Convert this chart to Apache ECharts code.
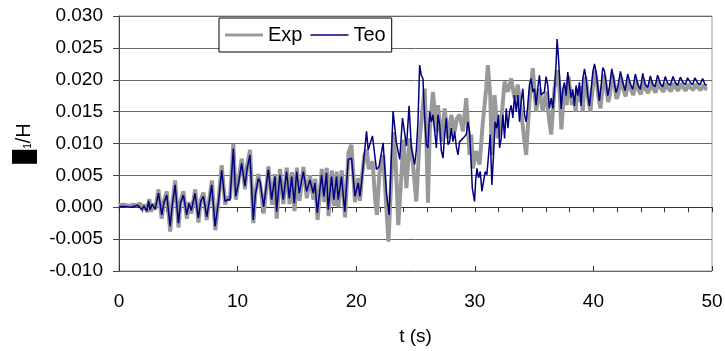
<!DOCTYPE html>
<html><head><meta charset="utf-8">
<script src="https://cdn.jsdelivr.net/npm/echarts@6/dist/echarts.min.js"></script>
<style>html,body{margin:0;padding:0;background:#fff}#c{width:725px;height:351px}</style>
</head><body><div id="c"></div>
<script>
// ---- data ----
const yTicks = [-0.010,-0.005,0.000,0.005,0.010,0.015,0.020,0.025,0.030];
const xTicks = [0,10,20,30,40,50];
const seriesNames = ['Exp','Teo'];
const expData = [
[0,0.0003],[0.4,0.0004],[0.8,0.0002],[1.2,0.0004],[1.5,0.0003],[1.8,0.0006],[2.0,-0.0004],[2.2,0.0004],[2.4,-0.0008],[2.55,0.0013],[2.7,-0.0007],[2.85,0.0006],[3.05,-0.0004],[3.33,0.0028],[3.6,-0.0018],[3.8,0.0010],[4.03,0.0025],[4.32,-0.0038],[4.5,0.0006],[4.73,0.0042],[5.02,-0.0032],[5.2,0.0010],[5.43,0.0025],[5.72,-0.0018],[5.9,0.0008],[6.1,-0.0010],[6.42,0.0028],[6.7,-0.0024],[6.9,0.0012],[7.12,0.0023],[7.4,-0.0020],[7.6,0.0010],[7.83,0.0042],[8.12,-0.0036],[8.4,0.0012],[8.66,0.0066],[8.95,0.0004],[9.15,0.0016],[9.36,0.0014],[9.64,0.0099],[9.85,0.0012],[10.1,0.0045],[10.35,0.0076],[10.62,0.0028],[10.8,0.0065],[11.05,0.0090],[11.33,-0.0025],[11.5,0.0022],[11.75,0.0052],[11.95,0.0030],[12.2,-0.0010],
[12.6,0.0064],[12.9,0.0004],[13.15,0.0052],[13.3,-0.0018],[13.58,0.0060],[13.86,0.0005],[14.14,0.0062],[14.38,0.0005],[14.58,0.0055],[14.8,-0.0006],[15.0,0.0062],[15.22,0.0010],[15.55,0.0063],[15.84,0.0014],[16.1,0.0050],[16.4,0.0012],[16.55,0.0045],[16.74,-0.0020],[17.1,0.0060],[17.3,0.0008],[17.52,0.0062],[17.66,-0.0014],[17.94,0.0058],[18.14,0.0002],[18.36,0.0056],[18.5,0.0000],[18.78,0.0058],[19.06,-0.0016],[19.35,0.0086],[19.6,0.0098],[19.9,0.0008],[20.18,0.0046],[20.32,0.0010],[20.48,0.0048],[20.7,0.0082],[20.9,0.0090],[21.05,0.0060],[21.38,0.0072],[21.6,0.0012],[21.75,-0.0012],[21.95,0.0052],[22.28,0.0082],[22.5,0.0012],[22.72,-0.0054],[22.95,0.0040],[23.15,0.0118],[23.35,0.0062],[23.55,-0.0028],[23.75,0.0032],[24.0,0.0106],[24.23,0.0030],
[24.51,0.0108],[24.79,0.0067],[25.07,0.0009],[25.35,0.0108],[25.63,0.0160],[25.77,0.0186],[25.9,0.0120],[26.05,0.0007],[26.2,0.0120],[26.47,0.0181],[26.76,0.0119],[26.9,0.0160],[27.18,0.0103],[27.46,0.0155],[27.74,0.0108],[28.02,0.0145],[28.3,0.0119],[28.5,0.0140],[28.72,0.0145],[29.0,0.0119],[29.28,0.0171],[29.56,0.0082],[29.7,0.0114],[29.84,0.0061],[30.12,0.0088],[30.4,0.0067],[30.68,0.0134],[30.96,0.0186],[31.1,0.0223],[31.3,0.0176],[31.44,0.0082],[31.67,0.0176],[31.95,0.0108],[32.23,0.0134],[32.51,0.0197],[32.79,0.0181],[33.07,0.0202],[33.35,0.0171],[33.63,0.0192],[33.91,0.0150],[34.19,0.0103],[34.33,0.0082],[34.61,0.0166],[34.89,0.0218],[35.17,0.0150],[35.45,0.0186],[35.73,0.0150],[36.01,0.0181],[36.29,0.0134],[36.44,0.0114],[36.72,0.0186],
[37.0,0.0215],[37.15,0.0185],[37.3,0.0122],[37.45,0.0165],[37.6,0.0190],[37.75,0.0160],[37.9,0.0205],[38.05,0.0180],[38.2,0.0160],[38.35,0.0175],[38.5,0.0150],[38.65,0.0185],[38.8,0.0165],[38.95,0.0190],[39.1,0.0150],[39.3,0.0205],[39.45,0.0190],[39.6,0.0165],[39.75,0.0150],[39.9,0.0180],[40.1,0.0215],[40.3,0.0195],[40.45,0.0170],[40.6,0.0155],[40.75,0.0185],[40.9,0.0208],[41.05,0.0190],[41.25,0.0165],[41.4,0.0178],[41.6,0.0208],[41.8,0.0190],[41.95,0.0170],[42.1,0.0178],[42.33,0.0204],[42.52,0.0186],[42.72,0.0174],[42.95,0.0200],[43.17,0.0184],[43.36,0.0176],[43.6,0.0200],[43.8,0.0184],[44.0,0.0177],[44.22,0.0200],[44.4,0.0185],[44.63,0.0179],[44.86,0.0197],[45.05,0.0185],[45.25,0.0180],[45.48,0.0197],[45.7,0.0186],[45.9,0.0181],[46.12,0.0195],[46.32,0.0186],[46.54,0.0182],[46.77,0.0195],[46.96,0.0187],[47.16,0.0183],[47.39,0.0194],[47.6,0.0187],[47.8,0.0183],[48.0,0.0193],[48.22,0.0187],[48.42,0.0184],[48.62,0.0193],[48.85,0.0187],[49.04,0.0184],[49.27,0.0192],[49.46,0.0186],[49.6,0.0185]
];
const teoData = [
[0,0.0001],[0.5,0.0001],[1.0,0.0000],[1.36,0.0002],[1.6,0.0003],[1.92,-0.0004],[2.1,0.0002],[2.35,-0.0006],[2.49,0.0010],[2.63,-0.0004],[2.8,0.0005],[3.05,-0.0003],[3.33,0.0022],[3.61,-0.0012],[3.8,0.0008],[4.03,0.0019],[4.31,-0.0030],[4.5,0.0005],[4.73,0.0035],[5.01,-0.0025],[5.2,0.0008],[5.43,0.0019],[5.71,-0.0012],[5.9,0.0006],[6.1,-0.0005],[6.41,0.0022],[6.69,-0.0017],[6.9,0.0010],[7.12,0.0017],[7.4,-0.0015],[7.6,0.0008],[7.82,0.0035],[8.1,-0.0030],[8.4,0.0010],[8.66,0.0058],[8.94,0.0009],[9.15,0.0012],[9.36,0.0011],[9.64,0.0092],[9.84,0.0017],[10.1,0.0040],[10.34,0.0069],[10.62,0.0033],[10.8,0.0060],[11.04,0.0082],[11.32,-0.0020],[11.5,0.0020],[11.75,0.0045],[11.9,0.0040],[12.2,0.0001],
[12.59,0.0059],[12.87,0.0012],[13.15,0.0048],[13.29,-0.0007],[13.57,0.0051],[13.85,0.0012],[14.13,0.0056],[14.36,0.0014],[14.56,0.0048],[14.78,0.0006],[14.98,0.0056],[15.2,0.0022],[15.54,0.0056],[15.82,0.0025],[16.1,0.0043],[16.38,0.0022],[16.52,0.0038],[16.72,-0.0009],[17.08,0.0051],[17.28,0.0017],[17.5,0.0054],[17.64,-0.0004],[17.92,0.0048],[18.12,0.0012],[18.34,0.0048],[18.48,0.0012],[18.76,0.0048],[19.04,-0.0007],[19.33,0.0075],[19.61,0.0077],[19.89,0.0017],[20.17,0.0038],[20.31,0.0017],[20.45,0.0038],[20.64,0.0075],[20.87,0.0119],[21.01,0.0090],[21.37,0.0112],[21.71,0.0059],[21.93,0.0064],[22.27,0.0101],[22.55,0.0022],[22.78,-0.0012],[23.11,0.0151],[23.39,0.0101],[23.67,0.0075],[23.9,0.0140],[24.24,0.0096],[24.46,0.0159],
[24.65,0.0093],[24.93,0.0067],[25.07,0.0090],[25.21,0.0134],[25.35,0.0223],[25.49,0.0207],[25.63,0.0202],[25.72,0.0160],[25.91,0.0098],[26.05,0.0093],[26.19,0.0150],[26.33,0.0134],[26.47,0.0145],[26.62,0.0119],[26.76,0.0093],[26.9,0.0145],[27.04,0.0129],[27.18,0.0088],[27.32,0.0077],[27.46,0.0114],[27.6,0.0140],[27.74,0.0098],[27.88,0.0103],[28.02,0.0124],[28.16,0.0103],[28.3,0.0119],[28.44,0.0095],[28.58,0.0082],[28.72,0.0103],[28.86,0.0101],[29.0,0.0108],[29.28,0.0114],[29.42,0.0134],[29.56,0.0119],[29.7,0.0067],[29.79,0.0030],[29.9,0.0028],[29.98,0.0009],[30.07,0.0041],[30.18,0.0061],[30.32,0.0046],[30.46,0.0056],[30.6,0.0025],[30.74,0.0041],[30.88,0.0056],[31.02,0.0051],[31.16,0.0082],[31.3,0.0114],[31.44,0.0035],[31.58,0.0082],[31.72,0.0134],[31.86,0.0124],[32.0,0.0145],[32.09,0.0093],[32.23,0.0108],[32.37,0.0145],[32.51,0.0108],[32.65,0.0155],[32.79,0.0124],[32.93,0.0150],[33.07,0.0160],[33.21,0.0140],[33.35,0.0176],[33.49,0.0150],[33.63,0.0176],[33.77,0.0134],[33.91,0.0166],[34.05,0.0186],[34.19,0.0145],[34.33,0.0134],[34.47,0.0160],[34.61,0.0192],[34.75,0.0202],[34.89,0.0181],[35.03,0.0186],[35.17,0.0160],[35.31,0.0186],[35.45,0.0207],[35.59,0.0176],[35.87,0.0181],[36.01,0.0205],[36.15,0.0192],[36.29,0.0155],[36.44,0.0171],[36.58,0.0155],[36.72,0.0185],[36.86,0.0228],
[36.94,0.0264],[37.06,0.0233],[37.14,0.0206],[37.28,0.0154],[37.42,0.0185],[37.56,0.0196],[37.7,0.0175],[37.84,0.0212],[37.98,0.0191],[38.12,0.0172],[38.26,0.0185],[38.4,0.0159],[38.54,0.0191],[38.68,0.0175],[38.82,0.0196],[38.96,0.0159],[39.1,0.0201],[39.25,0.0217],[39.39,0.0201],[39.53,0.0175],[39.67,0.0159],[39.81,0.0185],[39.95,0.0212],[40.09,0.0225],[40.23,0.0212],[40.37,0.0188],[40.51,0.0167],[40.65,0.0191],[40.79,0.0219],[40.93,0.0214],[41.07,0.0196],[41.21,0.0175],[41.35,0.0188],[41.55,0.0217],[41.71,0.0201],[41.91,0.0180],[42.05,0.0188],[42.28,0.0213],[42.47,0.0196],[42.67,0.0183],[42.89,0.0209],[43.12,0.0193],[43.31,0.0185],[43.54,0.0209],[43.73,0.0193],[43.96,0.0185],[44.16,0.0210],[44.35,0.0193],[44.58,0.0188],[44.8,0.0206],[45.0,0.0193],[45.19,0.0189],[45.42,0.0207],[45.64,0.0194],[45.84,0.0189],[46.06,0.0205],[46.26,0.0195],[46.48,0.0191],[46.71,0.0205],[46.9,0.0196],[47.1,0.0191],[47.33,0.0204],[47.55,0.0196],[47.75,0.0192],[47.94,0.0203],[48.17,0.0196],[48.36,0.0192],[48.56,0.0203],[48.79,0.0195],[48.98,0.0192],[49.21,0.0202],[49.4,0.0193],[49.57,0.0191]
];
// ---- chart ----
const FONT = 'Liberation Sans, Arial, sans-serif';
const FS = 19;
const chart = echarts.init(document.getElementById('c'), null, {renderer:'canvas'});
const xMin = xTicks[0], xMax = xTicks[xTicks.length-1];
const yMin = yTicks[0], yMax = yTicks[yTicks.length-1];
chart.setOption({
  animation:false,
  backgroundColor:'#fff',
  grid:{left:119,right:13,top:16,bottom:80,containLabel:false,outerBoundsMode:'none',
        show:true,borderColor:'#9a9a9a',borderWidth:1,backgroundColor:'transparent'},
  legend:{
    data:[
      {name:seriesNames[0],icon:'path://M0,0H38V3H0Z'},
      {name:seriesNames[1],icon:'path://M0,0H38V1.5H0Z'}
    ],
    left:219, top:18, orient:'horizontal', symbolKeepAspect:true,
    backgroundColor:'#fff', borderColor:'#000', borderWidth:1, borderRadius:0,
    padding:[7,6,7,6], itemWidth:38, itemHeight:4, itemGap:8,
    textStyle:{fontFamily:FONT,fontSize:20,color:'#000',padding:[0,0,0,0]}
  },
  xAxis:[
    {type:'value',min:xMin,max:xMax,interval:2,position:'bottom',
     axisLine:{show:true,onZero:true,lineStyle:{color:'#333',width:1}},
     axisTick:{show:true,length:5,inside:false,lineStyle:{color:'#333'}},
     axisLabel:{show:false},splitLine:{show:false}},
    {type:'value',min:xMin,max:xMax,interval:10,position:'bottom',
     axisLine:{show:false,onZero:true},
     axisTick:{show:true,length:5,inside:true,lineStyle:{color:'#333'}},
     axisLabel:{show:false},splitLine:{show:false}},
    {type:'value',min:xMin,max:xMax,interval:10,position:'bottom',
     axisLine:{show:false,onZero:false},axisTick:{show:false},splitLine:{show:false},
     axisLabel:{show:true,margin:21,fontFamily:FONT,fontSize:FS,color:'#000'},
     name:'t (s)',nameLocation:'middle',nameGap:56,
     nameTextStyle:{fontFamily:FONT,fontSize:FS,color:'#000'}}
  ],
  yAxis:{
    type:'value',min:yMin,max:yMax,interval:0.005,
    axisLine:{show:true,onZero:false,lineStyle:{color:'#444'}},
    axisTick:{show:true,length:6,lineStyle:{color:'#444'}},
    axisLabel:{margin:16,fontFamily:FONT,fontSize:FS,color:'#000',formatter:v=>v.toFixed(3)},
    splitLine:{show:true,lineStyle:{color:'#666',width:1}},
    name:'{box|}{sub|1}{t|/H}',nameLocation:'middle',nameRotate:90,nameGap:82,
    nameTextStyle:{fontFamily:FONT,color:'#000',rich:{
      box:{width:14,height:25,backgroundColor:'#000'},
      sub:{fontSize:10,fontFamily:FONT,color:'#000',padding:[8,0,0,1]},
      t:{fontSize:20,fontFamily:FONT,color:'#000'}
    }}
  },
  series:[
    {name:seriesNames[0],type:'line',xAxisIndex:0,data:expData,showSymbol:false,symbol:'none',
     lineStyle:{color:'#999999',width:4},itemStyle:{color:'#999999'},z:2},
    {name:seriesNames[1],type:'line',xAxisIndex:0,data:teoData,showSymbol:false,symbol:'none',
     lineStyle:{color:'#000080',width:1.5},itemStyle:{color:'#000080'},z:3}
  ]
});
</script></body></html>
